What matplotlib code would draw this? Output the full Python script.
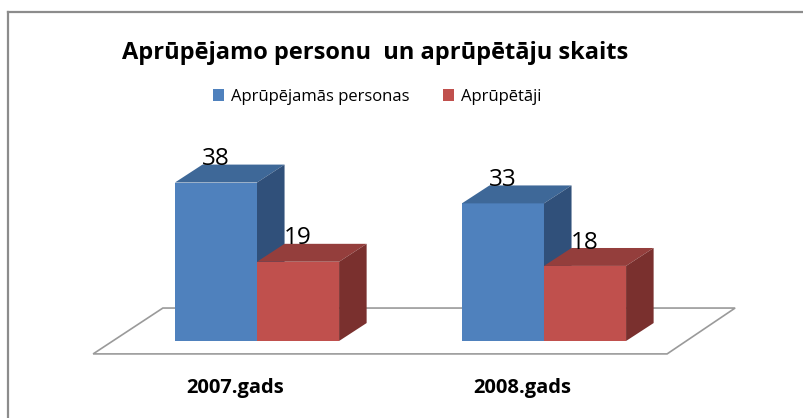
import matplotlib
matplotlib.use("Agg")
import matplotlib.pyplot as plt
from matplotlib.patches import Polygon, Patch
from matplotlib.lines import Line2D

plt.rcParams['font.family'] = ['Open Sans', 'DejaVu Sans']

title = "Aprūpējamo personu  un aprūpētāju skaits"
categories = ["2007.gads", "2008.gads"]
series_names = ["Aprūpējamās personas", "Aprūpētāji"]
persons = [38, 33]
carers = [19, 18]

front_colors = ["#4F81BD", "#C0504D"]
top_colors = ["#3E6898", "#943E3C"]
side_colors = ["#30507A", "#7A302E"]

bar_w = 0.286
dx, dy = 0.096, 4.3     # 3d depth offset in data units

fig = plt.figure(figsize=(8.04, 4.18), dpi=100)
ax = fig.add_axes([0, 0, 1, 1])
ax.set_xlim(-0.8955, 1.906)
ax.set_ylim(-18.47, 81.77)
ax.axis("off")

# floor of the 3d plot
floor = Polygon([(-0.571, -3.1), (1.429, -3.1), (1.666, 7.9), (-0.328, 7.9)],
                closed=True, facecolor="white", edgecolor="#9a9a9a", lw=1.2)
ax.add_patch(floor)

for i, values in enumerate([persons, carers]):
    for c, v in enumerate(values):
        left = c - bar_w if i == 0 else c
        ax.bar(left, v, width=bar_w, align="edge", color=front_colors[i],
               edgecolor="none", zorder=3 + i)
        top = Polygon([(left, v), (left + bar_w, v), (left + bar_w + dx, v + dy), (left + dx, v + dy)],
                      facecolor=top_colors[i], edgecolor="none", zorder=3 + i)
        side = Polygon([(left + bar_w, 0), (left + bar_w + dx, dy), (left + bar_w + dx, v + dy), (left + bar_w, v)],
                       facecolor=side_colors[i], edgecolor="none", zorder=3 + i)
        ax.add_patch(top)
        ax.add_patch(side)
        ax.text(left + bar_w / 2, v + 5.6, str(v), ha="center", va="center",
                fontsize=17.5, color="black", zorder=10)

for c, lab in enumerate(categories):
    ax.text(c - 0.075, -11.2, lab, ha="center", va="center", fontsize=14.5,
            fontweight="bold")

fig.text(0.466, 0.873, title, ha="center", va="center", fontsize=17,
         fontweight="bold")

handles = [Patch(facecolor=front_colors[0]), Patch(facecolor=front_colors[1])]
fig.legend(handles, series_names, loc="center", bbox_to_anchor=(0.469, 0.768),
           ncol=2, frameon=False, fontsize=12, handlelength=0.7, handleheight=0.7,
           handletextpad=0.4, columnspacing=2.0)

# chart border (top and left edges visible)
fig.add_artist(Line2D([8 / 804, 1], [1 - 12 / 418, 1 - 12 / 418], color="#8c8c8c", lw=1.6))
fig.add_artist(Line2D([8 / 804, 8 / 804], [0, 1 - 12 / 418], color="#8c8c8c", lw=1.6))

fig.savefig("out.png", dpi=100)
